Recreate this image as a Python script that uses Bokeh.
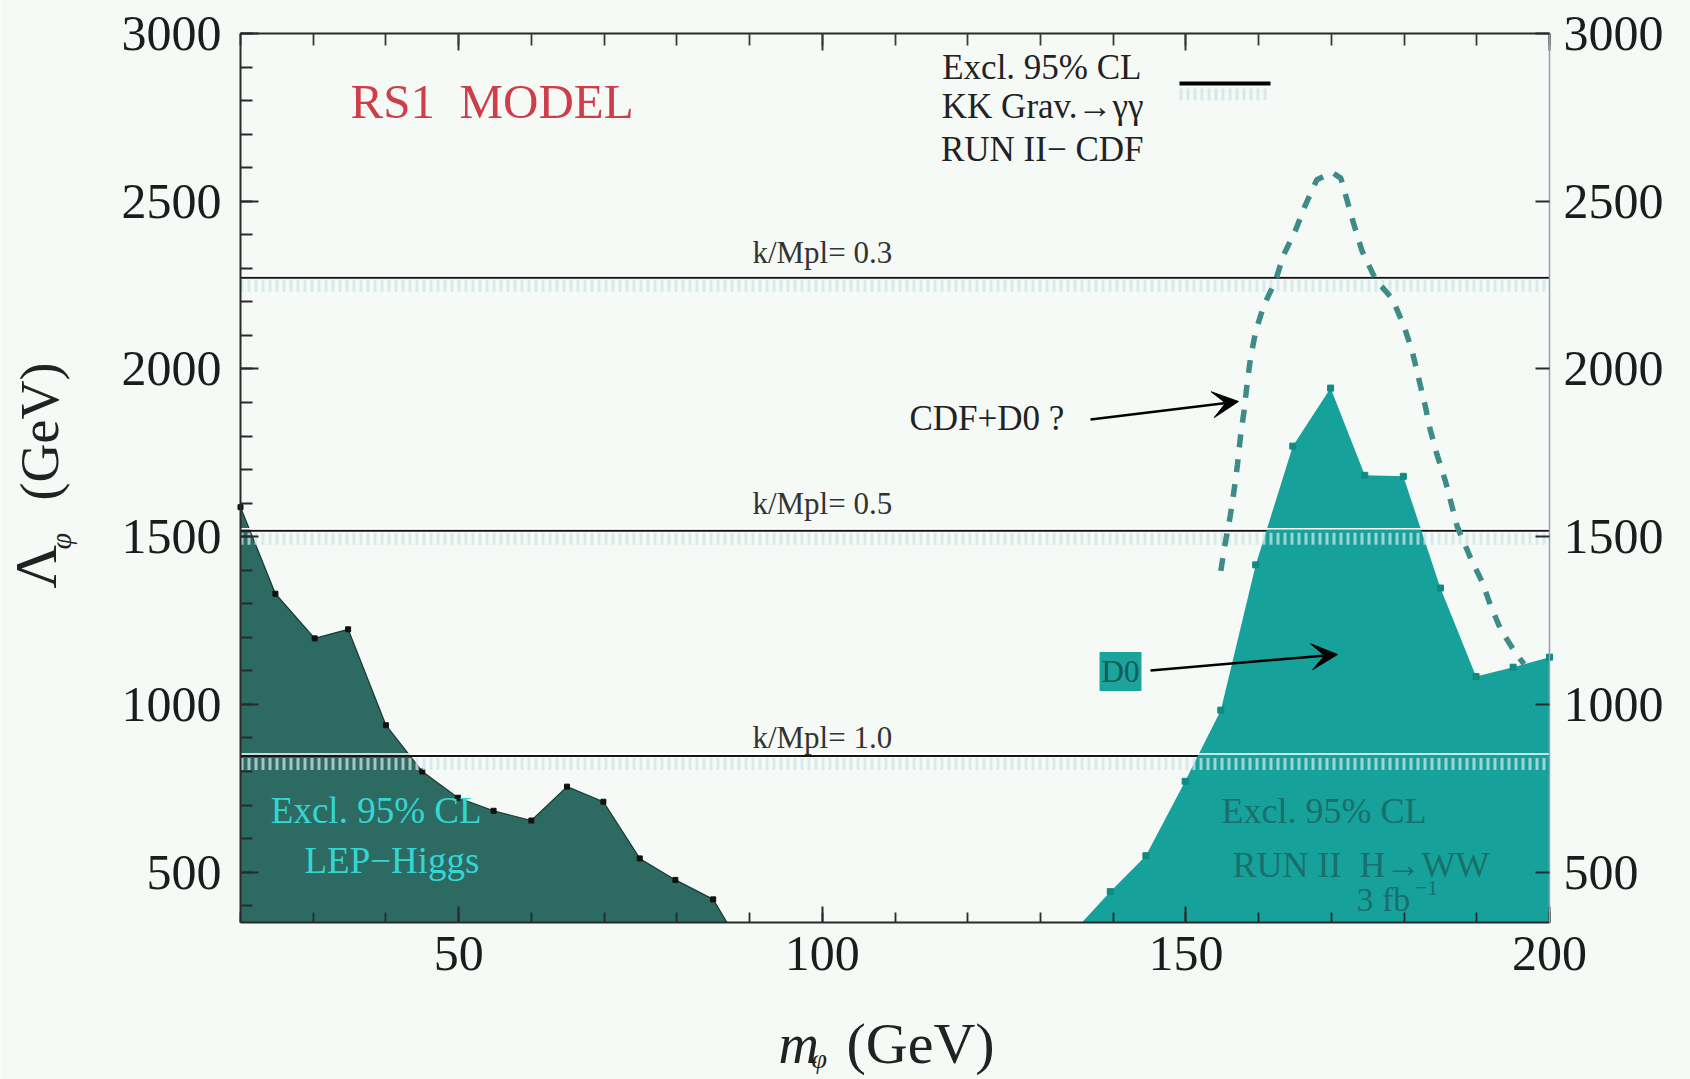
import numpy as np
from bokeh.plotting import figure
from bokeh.models import Range1d, LinearAxis, SingleIntervalTicker, Label, Arrow, VeeHead
from bokeh.embed import file_html
from bokeh.resources import INLINE

# ---------------- data ----------------
lep_mass = [20, 24.8, 30.2, 34.8, 40.0, 45.0, 49.9, 54.8, 60.0, 64.9, 69.9, 74.9, 79.8, 85.0, 86.9]
lep_lambda = [1588, 1330, 1197, 1224, 938, 800, 722, 683, 654, 755, 710, 541, 477, 419, 350]

d0_mass = [135.7, 139.6, 144.5, 149.9, 154.8, 159.6, 164.7, 169.9, 174.6, 179.9, 185.0, 189.9, 195.0, 200.0]
d0_lambda = [350, 442, 549, 771, 983, 1416, 1770, 1943, 1683, 1680, 1347, 1083, 1111, 1141]

cdf_mass = [154.8, 155.4, 156.1, 156.6, 157.1, 157.5, 158.0, 158.4, 158.9, 159.6, 160.7, 162.3,
            163.4, 165.1, 166.4, 168.0, 170.1, 171.3, 173.1, 174.2, 176.1, 178.4, 180.0, 181.1,
            182.0, 182.9, 183.6, 184.5, 185.7, 187.3, 189.1, 190.7, 191.9, 193.3, 195.1, 196.5]
cdf_lambda = [1398, 1480, 1562, 1634, 1716, 1798, 1875, 1952, 2035, 2112, 2189, 2261,
              2338, 2415, 2487, 2564, 2586, 2569, 2431, 2353, 2266, 2209, 2127, 2055,
              1973, 1891, 1819, 1747, 1665, 1531, 1439, 1367, 1295, 1223, 1161, 1120]

kmpl_labels = ["k/Mpl= 0.3", "k/Mpl= 0.5", "k/Mpl= 1.0"]
kmpl_lambda = [2272, 1518, 846]

x_tick_interval = 50
y_tick_interval = 500
X0, X1 = 20, 200
Y0, Y1 = 350, 3000

# ---------------- layout / style ----------------
W, H = 1690, 1079
FL, FR, FT, FB = 240, 1549, 33, 922      # where the plot box sits on the canvas
BG = "#f6faf6"
SERIF = "Liberation Serif"
LEP_COLOR = "#2d6a62"
D0_COLOR = "#16a29b"
CDF_COLOR = "#3e8b87"
HATCH_COLOR = "#cfe4ea"

xpu = (X1 - X0) / (FR - FL)   # data units per pixel
ypu = (Y1 - Y0) / (FB - FT)


def X(px):
    return X0 + (px - FL) * xpu


def Y(py):
    return Y0 + (FB - py) * ypu


# the frame covers the whole canvas; the axes are pinned to the box edges
p = figure(width=W, height=H,
           x_range=Range1d(X(0), X(W)), y_range=Range1d(Y(H), Y(0)),
           output_backend="svg", toolbar_location=None,
           min_border_left=0, min_border_right=0, min_border_top=0, min_border_bottom=0,
           background_fill_color=BG, border_fill_color=BG)
p.grid.visible = False
p.outline_line_color = None


def style_axis(ax, interval, loc, bounds, labels=True, minor=True, line_color="#2a2a2a",
               standoff=16, tick_in=17, minor_in=10, tick_color="#2a2a2a"):
    ax.ticker = SingleIntervalTicker(interval=interval, num_minor_ticks=5)
    ax.fixed_location = loc
    ax.bounds = bounds
    ax.axis_line_color = line_color
    ax.axis_line_width = 2
    ax.major_tick_in = tick_in
    ax.major_tick_out = 0
    ax.minor_tick_in = minor_in
    ax.minor_tick_out = 0
    ax.major_tick_line_color = tick_color
    ax.major_tick_line_width = 2
    ax.minor_tick_line_color = tick_color if minor else None
    ax.minor_tick_line_width = 1.8
    ax.major_label_text_font = SERIF
    ax.major_label_text_font_size = "50px"
    ax.major_label_text_color = "#1c1c1c" if labels else None
    ax.major_label_standoff = standoff


style_axis(p.xaxis[0], x_tick_interval, Y0, (X0, X1), standoff=14, tick_in=16, minor_in=10)
style_axis(p.yaxis[0], y_tick_interval, X0, (Y0, Y1), standoff=19, tick_in=18, minor_in=12)
top_axis = LinearAxis()
p.add_layout(top_axis, "above")
style_axis(top_axis, x_tick_interval, Y1, (X0, X1), labels=False, tick_in=17, minor_in=12,
           tick_color="#3a3a3a")
right_axis = LinearAxis()
p.add_layout(right_axis, "right")
style_axis(right_axis, y_tick_interval, X1, (Y0, Y1), minor=False, line_color="#9a9cb6",
           standoff=14, tick_in=14)
right_axis.axis_line_width = 1.5

# ---------------- LEP-Higgs excluded region ----------------
p.varea(x=lep_mass, y1=[Y0] * len(lep_mass), y2=lep_lambda, fill_color=LEP_COLOR)
p.line(lep_mass, lep_lambda, line_color="#173a35", line_width=1.2)
p.scatter(lep_mass[:-1], lep_lambda[:-1], marker="square", size=5, color="#111111")

# ---------------- k/Mpl lines (black) ----------------
n = len(kmpl_lambda)
p.segment(x0=[X0] * n, y0=kmpl_lambda, x1=[X1] * n, y1=kmpl_lambda,
          line_color="#151515", line_width=2)

# ---------------- D0 excluded region ----------------
p.varea(x=d0_mass, y1=[Y0] * len(d0_mass), y2=d0_lambda, fill_color=D0_COLOR)
p.scatter(d0_mass[1:], d0_lambda[1:], marker="square", size=6, color="#0f8a84")

# white highlight and hatched band under each k/Mpl line
hl = [v + 2 * ypu for v in kmpl_lambda]
p.segment(x0=[X0] * n, y0=hl, x1=[X1] * n, y1=hl, line_color="white", line_width=1.5)
hb = [v - 8 * ypu for v in kmpl_lambda]
p.segment(x0=[X0] * n, y0=hb, x1=[X1] * n, y1=hb, line_color=HATCH_COLOR, line_alpha=0.75,
          line_width=12, line_dash="3 4")

# ---------------- CDF+D0 projected curve ----------------
p.line(cdf_mass, cdf_lambda, line_color=CDF_COLOR, line_width=5.5, line_dash="13 12")

# ---------------- legend sample (top right) ----------------
p.segment(x0=[X(1179)], y0=[Y(83)], x1=[X(1270)], y1=[Y(83)], line_color="#000000", line_width=4)
p.segment(x0=[X(1179)], y0=[Y(94)], x1=[X(1270)], y1=[Y(94)], line_color=HATCH_COLOR,
          line_alpha=0.8, line_width=12, line_dash="3 4")


def add_text(text, px, py, size, color="#222222", align="left", baseline="middle",
             style="normal", angle=0.0, **kw):
    p.add_layout(Label(x=X(px), y=Y(py), text=text, text_font=SERIF,
                       text_font_size=f"{size}px", text_color=color, text_align=align,
                       text_baseline=baseline, text_font_style=style, angle=angle, **kw))


NB = "\u00a0"
# title / legend texts
add_text("RS1" + NB + " MODEL", 350, 101, 49, color="#cf3d48")
add_text("Excl. 95% CL", 1141, 67, 35, align="right")
add_text("KK Grav.\u2192\u03b3\u03b3", 1143, 106, 35, align="right")
add_text("RUN II\u2212 CDF", 1143, 149, 35, align="right")

# k/Mpl labels
for lab, v, off in zip(kmpl_labels, kmpl_lambda, [25, 27, 19]):
    p.add_layout(Label(x=100, y=v + off * ypu, text=lab, text_font=SERIF,
                       text_font_size="31px", text_color="#333333",
                       text_align="center", text_baseline="middle"))

# annotations with arrows
add_text("CDF+D0 ?", 909, 418, 35)
p.add_layout(Arrow(end=VeeHead(size=26, fill_color="black", line_color="black"),
                   x_start=X(1090), y_start=Y(419), x_end=X(1238), y_end=Y(401),
                   line_color="black", line_width=2.5))
add_text("D0", 1120, 671, 31, color="#125c58", align="center",
         background_fill_color="#1ba39c", padding=2)
p.add_layout(Arrow(end=VeeHead(size=26, fill_color="black", line_color="black"),
                   x_start=X(1150), y_start=Y(670), x_end=X(1337), y_end=Y(654),
                   line_color="black", line_width=2.5))

# region texts
add_text("Excl. 95% CL", 481, 810, 37, color="#33d6d2", align="right")
add_text("LEP\u2212Higgs", 479, 860, 37, color="#33d6d2", align="right")
add_text("Excl. 95% CL", 1221, 810, 36, color="#1a6f6b")
add_text("RUN II" + NB + " H\u2192WW", 1232, 864, 36, color="#1a6f6b")
add_text("3 fb", 1356, 899, 34, color="#1a6f6b")
add_text("\u22121", 1414, 887, 22, color="#1a6f6b")

# axis titles
add_text("m", 778, 1043, 56, style="italic")
add_text("\u03c6", 811, 1058, 28, style="italic")
add_text("(GeV)", 846, 1043, 58)

add_text("\u039b", 35, 588, 60, angle=np.pi / 2)
add_text("\u03c6", 60, 549, 30, style="italic", angle=np.pi / 2)
add_text("(GeV)", 39, 500, 54, angle=np.pi / 2)

open("out.html", "w").write(file_html(p, INLINE))
